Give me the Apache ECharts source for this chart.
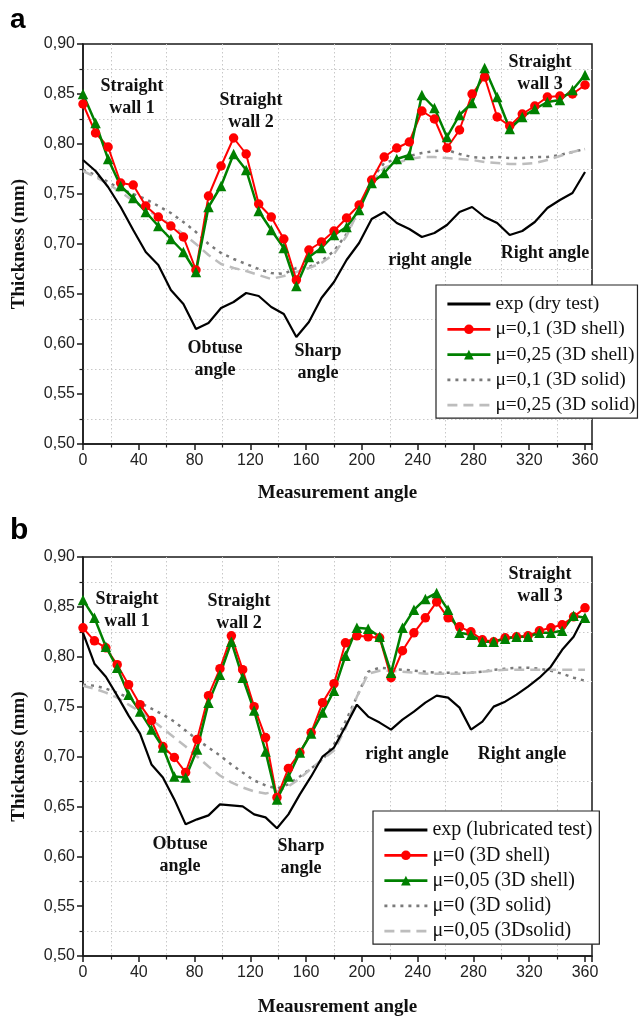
<!DOCTYPE html>
<html>
<head>
<meta charset="utf-8">
<script src="https://cdn.jsdelivr.net/npm/echarts@6/dist/echarts.min.js"></script>
<style>
  html, body { margin: 0; padding: 0; background: #fff; }
  #main { width: 639px; height: 1018px; }
</style>
</head>
<body>
<div id="main"></div>
<script>
// panel a: measurement angles (deg)
var anglesA = [0, 9, 18, 27, 36, 45, 54, 63, 72, 81, 90, 99, 108, 117, 126, 135, 144, 153, 162, 171,
  180, 189, 198, 207, 216, 225, 234, 243, 252, 261, 270, 279, 288, 297, 306, 315, 324, 333, 342, 351, 360];
var expDry = [0.784, 0.773, 0.757, 0.737, 0.714, 0.692, 0.679, 0.654, 0.640, 0.615, 0.621, 0.636, 0.642, 0.651,
  0.648, 0.637, 0.630, 0.607, 0.622, 0.646, 0.662, 0.684, 0.701, 0.725, 0.732, 0.721, 0.715, 0.707, 0.711, 0.719,
  0.732, 0.737, 0.727, 0.721, 0.709, 0.713, 0.722, 0.736, 0.744, 0.751, 0.772];
var shellMu01 = [0.840, 0.811, 0.797, 0.761, 0.759, 0.738, 0.727, 0.718, 0.707, 0.674, 0.748, 0.778, 0.806, 0.790,
  0.740, 0.727, 0.705, 0.664, 0.694, 0.702, 0.713, 0.726, 0.739, 0.764, 0.787, 0.796, 0.802, 0.833, 0.825, 0.796,
  0.814, 0.850, 0.867, 0.827, 0.818, 0.830, 0.838, 0.847, 0.848, 0.850, 0.859];
var shellMu025 = [0.850, 0.821, 0.785, 0.758, 0.746, 0.732, 0.718, 0.705, 0.692, 0.672, 0.737, 0.758, 0.790, 0.774,
  0.733, 0.714, 0.696, 0.658, 0.687, 0.696, 0.709, 0.717, 0.734, 0.761, 0.771, 0.785, 0.789, 0.849, 0.836, 0.807,
  0.829, 0.841, 0.876, 0.847, 0.815, 0.827, 0.835, 0.842, 0.844, 0.854, 0.869];
var solidMu01 = [0.774, 0.769, 0.762, 0.755, 0.750, 0.745, 0.738, 0.731, 0.722, 0.712, 0.700, 0.691, 0.685, 0.680,
  0.675, 0.671, 0.670, 0.676, 0.677, 0.683, 0.693, 0.710, 0.735, 0.765, 0.781, 0.785, 0.788, 0.791, 0.793, 0.794,
  0.790, 0.787, 0.786, 0.787, 0.786, 0.786, 0.787, 0.787, 0.789, 0.792, 0.795];
var solidMu025 = [0.773, 0.767, 0.760, 0.752, 0.743, 0.735, 0.727, 0.719, 0.710, 0.700, 0.689, 0.680, 0.676, 0.673,
  0.669, 0.665, 0.668, 0.672, 0.676, 0.681, 0.690, 0.708, 0.735, 0.762, 0.776, 0.781, 0.785, 0.787, 0.787, 0.786,
  0.785, 0.784, 0.782, 0.781, 0.780, 0.780, 0.781, 0.784, 0.788, 0.792, 0.795];

// panel b
var anglesB = [0, 8.2, 16.4, 24.5, 32.7, 40.9, 49.1, 57.3, 65.5, 73.6, 81.8, 90, 98.2, 106.4, 114.5, 122.7, 130.9,
  139.1, 147.3, 155.5, 163.6, 171.8, 180, 188.2, 196.4, 204.5, 212.7, 220.9, 229.1, 237.3, 245.5, 253.6, 261.8, 270,
  278.2, 286.4, 294.5, 302.7, 310.9, 319.1, 327.3, 335.5, 343.6, 351.8, 360];
var expLub = [0.824, 0.793, 0.780, 0.761, 0.741, 0.723, 0.692, 0.679, 0.657, 0.632, 0.637, 0.641, 0.652, 0.651,
  0.650, 0.642, 0.639, 0.628, 0.642, 0.662, 0.680, 0.700, 0.709, 0.730, 0.752, 0.740, 0.734, 0.727, 0.737, 0.745,
  0.754, 0.761, 0.759, 0.749, 0.727, 0.735, 0.750, 0.755, 0.762, 0.770, 0.779, 0.790, 0.807, 0.820, 0.842];
var shellMu0 = [0.829, 0.816, 0.809, 0.792, 0.772, 0.752, 0.736, 0.710, 0.699, 0.684, 0.717, 0.761, 0.788, 0.821,
  0.787, 0.750, 0.719, 0.659, 0.688, 0.704, 0.724, 0.754, 0.773, 0.814, 0.821, 0.820, 0.819, 0.779, 0.806, 0.824,
  0.839, 0.855, 0.839, 0.830, 0.825, 0.817, 0.815, 0.819, 0.820, 0.821, 0.826, 0.829, 0.832, 0.840, 0.849];
var shellMu005 = [0.857, 0.839, 0.810, 0.789, 0.762, 0.745, 0.727, 0.709, 0.680, 0.679, 0.707, 0.754, 0.782, 0.815,
  0.779, 0.746, 0.705, 0.657, 0.680, 0.704, 0.723, 0.744, 0.766, 0.801, 0.829, 0.828, 0.820, 0.784, 0.829, 0.847,
  0.858, 0.864, 0.847, 0.824, 0.822, 0.815, 0.815, 0.818, 0.820, 0.820, 0.824, 0.824, 0.826, 0.841, 0.839];
var solidMu0 = [0.772, 0.771, 0.768, 0.764, 0.759, 0.754, 0.748, 0.742, 0.735, 0.726, 0.717, 0.709, 0.701, 0.692,
  0.684, 0.676, 0.671, 0.668, 0.672, 0.680, 0.688, 0.697, 0.712, 0.735, 0.760, 0.785, 0.789, 0.788, 0.787, 0.786,
  0.785, 0.784, 0.784, 0.784, 0.784, 0.785, 0.787, 0.788, 0.789, 0.789, 0.788, 0.786, 0.783, 0.779, 0.776];
var solidMu005 = [0.771, 0.768, 0.764, 0.759, 0.752, 0.745, 0.737, 0.728, 0.719, 0.710, 0.700, 0.690, 0.681, 0.674,
  0.669, 0.665, 0.663, 0.665, 0.670, 0.678, 0.688, 0.697, 0.706, 0.728, 0.760, 0.783, 0.786, 0.786, 0.785, 0.784,
  0.783, 0.783, 0.783, 0.783, 0.784, 0.785, 0.786, 0.787, 0.787, 0.787, 0.787, 0.787, 0.787, 0.787, 0.787];

var xTicks = [0, 40, 80, 120, 160, 200, 240, 280, 320, 360];

function pairs(xs, ys) {
  return xs.map(function (x, i) { return [x, ys[i]]; });
}

var chart = echarts.init(document.getElementById('main'));

var SANS = 'Liberation Sans';
var SERIF = 'Liberation Serif';
var axisColor = '#1a1a1a';

function xAxisFor(gridIndex, title, gap) {
  return {
    gridIndex: gridIndex,
    type: 'value',
    min: 0,
    max: 365,
    interval: 40,
    name: title,
    nameLocation: 'middle',
    nameGap: gap,
    nameTextStyle: { fontFamily: SERIF, fontWeight: 'bold', fontSize: 19, color: '#111' },
    axisLine: { show: true, lineStyle: { color: axisColor, width: 1.5 } },
    axisTick: { show: true, length: 6, lineStyle: { color: axisColor, width: 1.5 } },
    minorTick: { show: true, splitNumber: 2, length: 3.5, lineStyle: { color: axisColor, width: 1.2 } },
    minorSplitLine: { show: true, lineStyle: { color: '#c8c8c8', width: 1, type: [1.5, 2.5] } },
    splitLine: { show: false },
    axisLabel: {
      fontFamily: SANS, fontSize: 16, color: '#222', margin: 9,
      formatter: function (v) { return xTicks.indexOf(v) >= 0 ? String(v) : ''; }
    }
  };
}

function yAxisFor(gridIndex) {
  return {
    gridIndex: gridIndex,
    type: 'value',
    min: 0.5,
    max: 0.9,
    interval: 0.05,
    name: 'Thickness (mm)',
    nameLocation: 'middle',
    nameGap: 54,
    nameTextStyle: { fontFamily: SERIF, fontWeight: 'bold', fontSize: 19, color: '#111' },
    axisLine: { show: true, lineStyle: { color: axisColor, width: 1.5 } },
    axisTick: { show: true, length: 6, lineStyle: { color: axisColor, width: 1.5 } },
    minorTick: { show: true, splitNumber: 2, length: 3.5, lineStyle: { color: axisColor, width: 1.2 } },
    minorSplitLine: { show: true, lineStyle: { color: '#c8c8c8', width: 1, type: [1.5, 2.5] } },
    splitLine: { show: false },
    axisLabel: {
      fontFamily: SANS, fontSize: 16, color: '#222', margin: 8,
      formatter: function (v) { return v.toFixed(2).replace('.', ','); }
    }
  };
}

function seriesSet(idx, xs, exp, red, green, dotted, dashed, names) {
  return [
    {
      name: names[3], type: 'line', xAxisIndex: idx, yAxisIndex: idx,
      data: pairs(xs, dotted), symbol: 'none',
      itemStyle: { color: '#7a7a7a', opacity: 0 },
      lineStyle: { color: '#7a7a7a', width: 2.5, type: [3, 5] }
    },
    {
      name: names[4], type: 'line', xAxisIndex: idx, yAxisIndex: idx,
      data: pairs(xs, dashed), symbol: 'none',
      itemStyle: { color: '#bdbdbd', opacity: 0 },
      lineStyle: { color: '#bdbdbd', width: 2.5, type: [10, 6] }
    },
    {
      name: names[0], type: 'line', xAxisIndex: idx, yAxisIndex: idx,
      data: pairs(xs, exp), symbol: 'none',
      itemStyle: { color: '#000', opacity: 0 },
      lineStyle: { color: '#000', width: 2.2 }
    },
    {
      name: names[1], type: 'line', xAxisIndex: idx, yAxisIndex: idx,
      data: pairs(xs, red), symbol: 'circle', symbolSize: 9.5,
      itemStyle: { color: '#ff0000' },
      lineStyle: { color: '#ff0000', width: 2 }
    },
    {
      name: names[2], type: 'line', xAxisIndex: idx, yAxisIndex: idx,
      data: pairs(xs, green), symbol: 'triangle', symbolSize: 10.5,
      itemStyle: { color: '#008000' },
      lineStyle: { color: '#008000', width: 2.5 }
    }
  ];
}

var namesA = ['exp (dry test)', 'μ=0,1 (3D shell)', 'μ=0,25 (3D shell)', 'μ=0,1 (3D solid)', 'μ=0,25 (3D solid)'];
var namesB = ['exp (lubricated test)', 'μ=0 (3D shell)', 'μ=0,05 (3D shell)', 'μ=0 (3D solid)', 'μ=0,05 (3Dsolid)'];

function legendFor(names, left, top, padRight, size) {
  return {
    data: names,
    orient: 'vertical',
    left: left,
    top: top,
    itemWidth: 43,
    itemHeight: 12,
    itemGap: 5.3,
    padding: [9, padRight, 3, 10],
    backgroundColor: '#fff',
    borderColor: '#222',
    borderWidth: 1.2,
    borderRadius: 0,
    lineStyle: { width: 2.8 },
    textStyle: { fontFamily: SERIF, fontSize: size, color: '#111', lineHeight: 20 }
  };
}

function note(text, x, y) {
  return {
    type: 'text', x: x, y: y, z: 100,
    style: {
      text: text, textAlign: 'center', textVerticalAlign: 'middle',
      font: 'bold 18px "Liberation Serif"', fill: '#111', lineHeight: 22
    }
  };
}

var option = {
  animation: false,
  backgroundColor: '#fff',
  grid: [
    { left: 83, top: 44, width: 509, height: 400, show: true, borderColor: axisColor, borderWidth: 1.5 },
    { left: 83, top: 557, width: 509, height: 400, show: true, borderColor: axisColor, borderWidth: 1.5 }
  ],
  xAxis: [xAxisFor(0, 'Measurement angle', 40), xAxisFor(1, 'Meausrement angle', 42)],
  yAxis: [yAxisFor(0), yAxisFor(1)],
  legend: [legendFor(namesA, 436, 285, 2, 19.5), legendFor(namesB, 373, 811, 7, 20)],
  series: seriesSet(0, anglesA, expDry, shellMu01, shellMu025, solidMu01, solidMu025, namesA)
    .concat(seriesSet(1, anglesB, expLub, shellMu0, shellMu005, solidMu0, solidMu005, namesB)),
  graphic: [
    { type: 'text', x: 10, y: 6, style: { text: 'a', font: 'bold 28px "Liberation Sans"', fill: '#000' } },
    { type: 'text', x: 10, y: 516, style: { text: 'b', font: 'bold 30px "Liberation Sans"', fill: '#000' } },
    note('Straight\nwall 1', 132, 97),
    note('Straight\nwall 2', 251, 111),
    note('Straight\nwall 3', 540, 73),
    note('Obtuse\nangle', 215, 359),
    note('Sharp\nangle', 318, 362),
    note('right angle', 430, 260),
    note('Right angle', 545, 253),
    note('Straight\nwall 1', 127, 610),
    note('Straight\nwall 2', 239, 612),
    note('Straight\nwall 3', 540, 585),
    note('Obtuse\nangle', 180, 855),
    note('Sharp\nangle', 301, 857),
    note('right angle', 407, 754),
    note('Right angle', 522, 754)
  ]
};

chart.setOption(option);
</script>
</body>
</html>
